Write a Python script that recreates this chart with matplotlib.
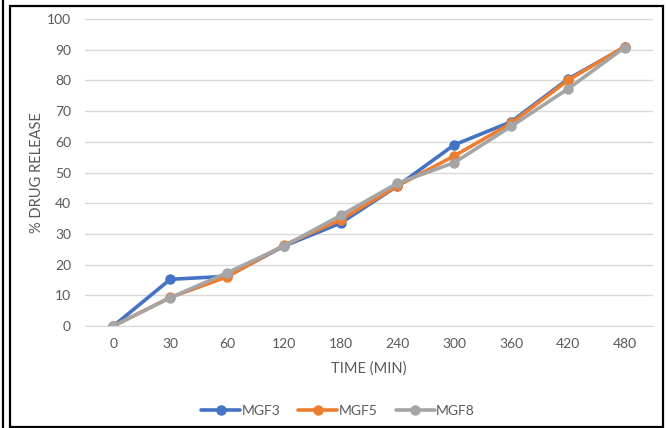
import matplotlib.pyplot as plt
from matplotlib.patches import Rectangle
from matplotlib.lines import Line2D

plt.rcParams['font.family'] = ['Lato', 'DejaVu Sans']

times = ['0', '30', '60', '120', '180', '240', '300', '360', '420', '480']
mgf3 = [0, 15.2, 16.2, 26.0, 33.5, 45.6, 59.0, 66.5, 80.4, 90.8]
mgf5 = [0, 9.3, 16.0, 26.3, 34.6, 45.6, 55.4, 66.0, 80.0, 91.0]
mgf8 = [0, 9.2, 17.3, 26.0, 36.0, 46.5, 53.2, 65.0, 77.2, 90.7]

series = [('MGF3', mgf3, '#4472C4'), ('MGF5', mgf5, '#ED7D31'), ('MGF8', mgf8, '#A5A5A5')]

W, H = 666, 428
fig = plt.figure(figsize=(W / 100, H / 100), dpi=100)

# plot area in pixel coordinates
left, right, top, bottom = 85, 653, 19, 326
ax = fig.add_axes([left / W, 1 - bottom / H, (right - left) / W, (bottom - top) / H])

x = list(range(len(times)))
for name, vals, col in series:
    ax.plot(x, vals, color=col, lw=2.6, marker='o', ms=6.5, label=name,
            solid_capstyle='round')

ax.set_xlim(-0.5, len(times) - 0.5)
ax.set_ylim(0, 100)
ax.set_yticks(range(0, 101, 10))
ax.set_xticks(x)
ax.set_xticklabels(times)
ax.grid(axis='y', color='#D9D9D9', lw=1)
ax.set_axisbelow(True)
for s in ['top', 'right', 'left']:
    ax.spines[s].set_visible(False)
ax.spines['bottom'].set_color('#D9D9D9')
ax.tick_params(length=0, colors='#595959', labelsize=10)
ax.tick_params(axis='y', pad=10)
ax.tick_params(axis='x', pad=9)
ax.set_xlabel('TIME (MIN)', color='#595959', fontsize=10.5, labelpad=8)
ax.set_ylabel('% DRUG RELEASE', color='#595959', fontsize=10.5, labelpad=2)

leg = fig.legend(loc='center', bbox_to_anchor=(338 / W, 1 - 411 / H), ncol=3,
                 frameon=False, fontsize=10, handlelength=2.8, columnspacing=1.3,
                 handletextpad=0.1, labelcolor='#595959')

# borders
fig.add_artist(Rectangle((10.5 / W, 1 - 426.5 / H), 652.5 / W, 420.5 / H,
                         transform=fig.transFigure, fill=False, ec='black', lw=1.6))
fig.add_artist(Line2D([2.5 / W, 2.5 / W], [0, 1], transform=fig.transFigure,
                      color='black', lw=1.6))

fig.savefig('out.png', dpi=100)
